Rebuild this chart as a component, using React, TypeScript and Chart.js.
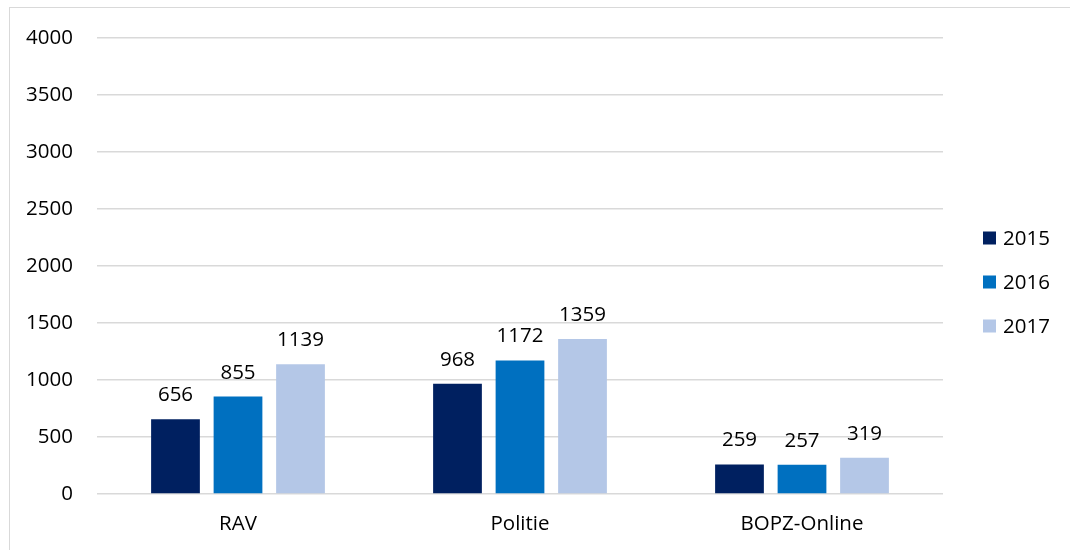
import React, { useEffect, useRef } from "react";
import { Chart, registerables } from "chart.js";

Chart.register(...registerables);

const categories = ["RAV", "Politie", "BOPZ-Online"];
const seriesLabels = ["2015", "2016", "2017"];
const values2015 = [656, 968, 259];
const values2016 = [855, 1172, 257];
const values2017 = [1139, 1359, 319];
const seriesColors = ["#002060", "#0070C0", "#B4C7E7"];
const yTicks = [0, 500, 1000, 1500, 2000, 2500, 3000, 3500, 4000];

const FONT = "'Open Sans', 'Liberation Sans', sans-serif";
const FONT_SIZE = 20.5;

const valueLabelPlugin = {
  id: "valueLabels",
  afterDatasetsDraw(chart: any) {
    const ctx = chart.ctx;
    ctx.save();
    ctx.font = `${FONT_SIZE}px ${FONT}`;
    ctx.fillStyle = "#000";
    ctx.textAlign = "center";
    ctx.textBaseline = "alphabetic";
    chart.data.datasets.forEach((ds: any, di: number) => {
      const meta = chart.getDatasetMeta(di);
      meta.data.forEach((bar: any, i: number) => {
        ctx.fillText(String(ds.data[i]), bar.x, bar.y - 18);
      });
    });
    ctx.restore();
  },
};

const legendPlugin = {
  id: "sideLegend",
  afterDraw(chart: any) {
    const ctx = chart.ctx;
    const area = chart.chartArea;
    const n = chart.data.datasets.length;
    const spacing = 44;
    const mid = (area.top + area.bottom) / 2 + 16;
    const x = area.right + 40;
    ctx.save();
    ctx.font = `${FONT_SIZE}px ${FONT}`;
    ctx.textAlign = "left";
    ctx.textBaseline = "middle";
    chart.data.datasets.forEach((ds: any, i: number) => {
      const cy = mid + (i - (n - 1) / 2) * spacing;
      ctx.fillStyle = ds.backgroundColor;
      ctx.fillRect(x, cy - 6.5, 13, 13);
      ctx.fillStyle = "#000";
      ctx.fillText(ds.label, x + 20, cy + 1);
    });
    ctx.restore();
  },
};

export default function App() {
  const ref = useRef<HTMLCanvasElement | null>(null);
  useEffect(() => {
    if (!ref.current) return;
    const series = [values2015, values2016, values2017];
    const chart = new Chart(ref.current, {
      type: "bar",
      data: {
        labels: categories,
        datasets: series.map((d, i) => ({
          label: seriesLabels[i],
          data: d,
          backgroundColor: seriesColors[i],
          borderWidth: 0,
          categoryPercentage: 0.665,
          barPercentage: 0.78,
        })),
      },
      options: {
        animation: false,
        responsive: false,
        maintainAspectRatio: false,
        layout: { padding: { top: 38, right: 127, left: 0, bottom: 0 } },
        plugins: {
          legend: { display: false },
          tooltip: { enabled: false },
        },
        scales: {
          x: {
            grid: { display: false, drawTicks: false },
            border: { display: false },
            ticks: {
              color: "#000",
              font: { family: FONT, size: FONT_SIZE },
              padding: 18,
            },
            afterFit(scale: any) {
              scale.height = 56;
            },
          },
          y: {
            min: 0,
            max: 4000,
            afterBuildTicks(scale: any) {
              scale.ticks = yTicks.map((v) => ({ value: v }));
            },
            grid: { color: "#d9d9d9", lineWidth: 1.5, drawTicks: false },
            border: { display: false },
            ticks: {
              color: "#000",
              font: { family: FONT, size: FONT_SIZE },
              padding: 24,
              callback: (v: any) => String(v),
            },
            afterFit(scale: any) {
              scale.width = 97;
            },
          },
        },
      },
      plugins: [valueLabelPlugin, legendPlugin],
    });
    return () => chart.destroy();
  }, []);

  return (
    <div style={{ position: "absolute", left: 0, top: 0, width: 1070, height: 550, overflow: "hidden", background: "#fff" }}>
      <div
        style={{
          position: "absolute",
          left: 9,
          top: 7,
          width: 1100,
          height: 600,
          border: "1.5px solid #d9d9d9",
          pointerEvents: "none",
        }}
      />
      <canvas ref={ref} width={1070} height={550} style={{ position: "absolute", left: 0, top: 0, width: 1070, height: 550 }} />
    </div>
  );
}
